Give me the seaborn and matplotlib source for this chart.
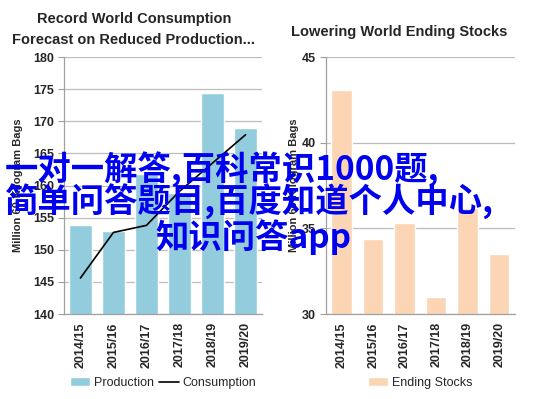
import numpy as np
import pandas as pd
import seaborn as sns
from matplotlib import pyplot as plt
from matplotlib.patches import Patch
from matplotlib.lines import Line2D

# values
years = ["2014/15", "2015/16", "2016/17", "2017/18", "2018/19", "2019/20"]
production = [153.8, 152.9, 161.8, 158.8, 174.4, 168.9]
consumption = [145.6, 152.7, 153.8, 159.1, 163.5, 167.9]
ending_stocks = [43.1, 34.4, 35.3, 31.0, 36.2, 33.5]

left_ticks = [140, 145, 150, 155, 160, 165, 170, 175, 180]
right_ticks = [30, 35, 40, 45]

sns.set_style("white")
plt.rcParams['font.family'] = ['Liberation Sans', 'DejaVu Sans']

blue_bar = "#93CDDD"
peach_bar = "#FCD5B5"
grid_c = "#BDBDBD"
spine_c = "#A0A0A0"

fig = plt.figure(figsize=(5.37, 3.99), dpi=100)
axL = fig.add_axes([0.119, 0.213, 0.369, 0.644])
axR = fig.add_axes([0.607, 0.213, 0.352, 0.644])

sns.barplot(x=years, y=production, color=blue_bar, width=0.7, ax=axL,
            saturation=1, zorder=2)
sns.pointplot(x=years, y=consumption, color="black", markers="",
              linewidth=1.2, ax=axL, zorder=3)
sns.barplot(x=years, y=ending_stocks, color=peach_bar, width=0.65, ax=axR,
            saturation=1, zorder=2)

def style_axis(ax, ticks, ylabel, label_x):
    ax.set_ylim(ticks[0], ticks[-1])
    ax.set_yticks(ticks)
    ax.set_yticklabels([str(t) for t in ticks], fontweight="bold", fontsize=9)
    ax.set_xlim(-0.5, len(years) - 0.5)
    ax.set_xticks(range(len(years)))
    ax.set_xticklabels(years, rotation=90, fontweight="bold", fontsize=9)
    ax.set_xticks(np.arange(-0.5, len(years), 1), minor=True)
    ax.tick_params(axis="x", which="major", length=0, pad=6)
    ax.tick_params(axis="x", which="minor", length=4, color=spine_c, width=0.8)
    ax.tick_params(axis="y", length=4, color=spine_c, width=0.8, pad=3, left=True)
    ax.yaxis.grid(True, color=grid_c, lw=0.9)
    ax.set_axisbelow(True)
    sns.despine(ax=ax, top=True, right=True)
    for s in ["left", "bottom"]:
        ax.spines[s].set_color(spine_c)
        ax.spines[s].set_linewidth(0.9)
    ax.set_xlabel("")
    ax.set_ylabel(ylabel, fontweight="bold", fontsize=8)
    ax.yaxis.set_label_coords(label_x, 0.5)

style_axis(axL, left_ticks, "Million 60-Kilogram Bags", -0.207)
style_axis(axR, right_ticks, "Million 60-Kilogram Bags", -0.143)

axL.legend(handles=[Patch(facecolor=blue_bar, label="Production"),
                    Line2D([], [], color="black", lw=1.2, label="Consumption")],
           loc="center", bbox_to_anchor=(0.5, -0.268), ncol=2, frameon=False,
           fontsize=9, handlelength=1.6, handletextpad=0.3, columnspacing=0.4)
axR.legend(handles=[Patch(facecolor=peach_bar, label="Ending Stocks")],
           loc="center", bbox_to_anchor=(0.5, -0.268), frameon=False,
           fontsize=9, handlelength=1.6, handletextpad=0.3)

fig.text(134 / 537, 1 - 19 / 399, "Record World Consumption",
         ha="center", va="center", fontsize=10.5, fontweight="bold")
fig.text(134 / 537, 1 - 40 / 399, "Forecast on Reduced Production...",
         ha="center", va="center", fontsize=10.5, fontweight="bold")
fig.text(399 / 537, 1 - 32 / 399, "Lowering World Ending Stocks",
         ha="center", va="center", fontsize=10.5, fontweight="bold")

# blue watermark text lying over both charts
cjk = ["Noto Sans CJK SC", "DejaVu Sans"]
overlay_c = "#0000F0"
fig.text(5 / 537, 1 - 170 / 399, "一对一解答,百科常识1000题,", family=cjk,
         ha="left", va="center", fontsize=24, color=overlay_c, fontweight="bold")
fig.text(5 / 537, 1 - 202 / 399, "简单问答题目,百度知道个人中心,", family=cjk,
         ha="left", va="center", fontsize=24, color=overlay_c, fontweight="bold")
fig.text(155 / 537, 1 - 237 / 399, "知识问答app", family=cjk,
         ha="left", va="center", fontsize=24, color=overlay_c, fontweight="bold")

fig.savefig("out.png", dpi=100)
